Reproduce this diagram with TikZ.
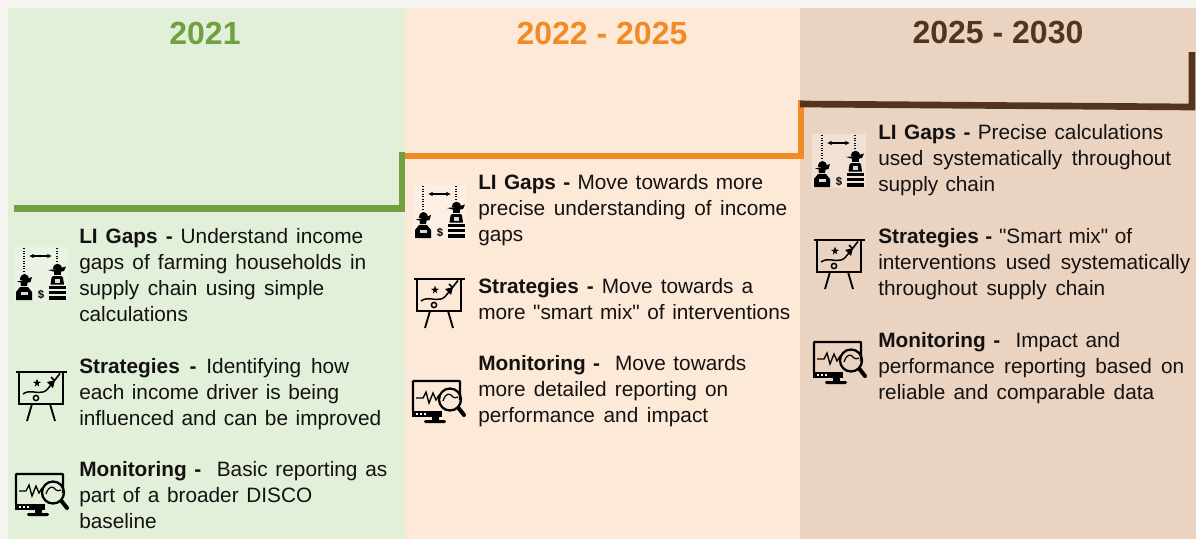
\documentclass[tikz,border=0pt]{standalone}
\usepackage{fontspec}
\setmainfont{Liberation Sans}[Ligatures=TeXOff]
\usetikzlibrary{arrows.meta}
\definecolor{pagebg}{HTML}{F5F4F0}
\definecolor{greenbg}{HTML}{E2EFD9}
\definecolor{orangebg}{HTML}{FDE9D8}
\definecolor{brownbg}{HTML}{EBD3C2}
\definecolor{greenln}{HTML}{70A03F}
\definecolor{orangeln}{HTML}{F28A26}
\definecolor{brownln}{HTML}{54341F}
\definecolor{ink}{HTML}{141210}
\newlength{\jlw}
\newcommand{\jl}[2]{\setlength{\jlw}{#1pt}\setlength{\jlw}{0.75\jlw}\makebox[\jlw][s]{\strut #2}\\}
\newcommand{\hd}[1]{\textbf{#1}}
\tikzset{
  x=0.75pt,y=-0.75pt,
  panel/.style={fill=#1,draw=none},
  yearlabel/.style={font=\fontsize{24}{28}\selectfont\bfseries,text=#1,anchor=center,inner sep=0},
  bodytext/.style={font=\fontsize{15.6}{19.5}\selectfont,text=ink,anchor=north west,inner sep=0,align=left},
  stepline/.style={draw=#1,line width=5pt,line join=miter},
  iconline/.style={draw=black,line width=1.4pt},
  ligaps/.pic={
    \fill[white,opacity=.3] (0,0) rectangle (54,54);
    \draw[black,line width=.9pt,densely dotted] (10,1)--(10,25);
    \draw[black,line width=.9pt,densely dotted] (43,1)--(43,15);
    \draw[black,line width=.8pt,{Latex[length=3.5pt,width=3.5pt]}-{Latex[length=3.5pt,width=3.5pt]}] (15,9)--(38,9);
    % left farmer
    \fill[black] (5.5,33)..controls (5.5,25) and (14.5,25) ..(14.5,33)--cycle;
    \fill[black] (3,34.5)--(10,33)--(18,30)--(16.5,35)--(10,36.5)--cycle;
    \fill[black] (6.5,36)--(13.5,36)--(13,39)--(7,39)--cycle;
    \fill[black] (2,53)--(2,45)--(6,40)--(14,40)--(18,45)--(18,53)--cycle;
    \fill[white,opacity=.85] (6.5,45) rectangle (13.5,48);
    % right farmer
    \fill[black] (38.5,21.5)..controls (38.5,14.5) and (47.5,14.5) ..(47.5,21.5)--cycle;
    \fill[black] (34,23)--(43,22)--(52,19.5)--(50,24)--(43,25.5)--cycle;
    \fill[black] (39.5,25) rectangle (47,28);
    \fill[black] (36.5,37.5)--(37.5,30.5)--(39,29)--(47.5,29)--(49,30.5)--(50,37.5)--cycle;
    \fill[white,opacity=.85] (40.5,32) rectangle (46,36);
    \fill[black] (34.5,38.5) rectangle (52,42);
    \fill[black] (34.5,43.5) rectangle (52,47);
    \fill[black] (34.5,49) rectangle (52,53);
    \node[font=\fontsize{8.5}{8.5}\selectfont\bfseries,text=black,inner sep=0] at (27,48) {\$};
  },
  stratboard/.pic={
    \draw[iconline] (0,0)--(51,0);
    \draw[iconline] (3,0)--(3,32)--(47,32)--(47,0);
    \draw[iconline] (16,32)--(11,49);
    \draw[iconline] (34,32)--(39,49);
    \fill[black] (21,6.5)--(22,9.5)--(25,10)--(22.5,11.5)--(23,14.5)--(21,12.5)--(19,14.5)--(19.5,11.5)--(17,10)--(20,9.5)--cycle;
    \draw[black,line width=1.1pt] (7,22)..controls (14,17) and (20,22) ..(27,20)..controls (31,19) and (32,16) ..(35,13);
    \fill[black] (31,10)--(39,8)--(37,16)--cycle;
    \draw[black,line width=1.2pt] (35,5)--(38.5,8.5)--(44,1.5);
    \draw[black,line width=1.1pt] (20,26) circle (2.6);
  },
  monitor/.pic={
    \draw[black,line width=1.7pt,rounded corners=.5pt] (1,31)--(1,1)--(48,1)--(48,20);
    \fill[black] (0,31) rectangle (30,37);
    \fill[white] (4,33) rectangle (6,35);\fill[white] (8,33) rectangle (10,35);\fill[white] (12,33) rectangle (14,35);
    \fill[black] (20,37) rectangle (27,40);
    \fill[black,rounded corners=1pt] (12,40) rectangle (34,43);
    \draw[black,line width=1pt] (4,18)--(11,18)--(14,12)--(17,23)--(21,13)--(24,20)--(27,15);
    \draw[black,line width=1.7pt] (38,19.5) circle (11);
    \draw[black,line width=.9pt] (31,21)..controls (34,12) and (38,13) ..(41,17)..controls (42,18) and (44,18) ..(46,17);
    \draw[black,line width=3pt,line cap=round] (46.5,28)--(52,35);
  },
}
\begin{document}
\begin{tikzpicture}
\useasboundingbox (0,0) rectangle (1196,539);
\fill[pagebg] (0,0) rectangle (1196,539);
\fill[panel=greenbg] (8,8) rectangle (405,539);
\fill[panel=orangebg] (405,8) rectangle (800,539);
\fill[panel=brownbg] (800,8) rectangle (1196,539);

\node[yearlabel=greenln] (y1) at (205,33) {2021};
\node[yearlabel=orangeln] (y2) at (602,33) {2022 - 2025};
\node[yearlabel=brownln] (y3) at (998,33) {2025 - 2030};

\coordinate (g0) at (14,208.5);\coordinate (g1) at (402,208.5);\coordinate (g2) at (402,152);
\coordinate (o0) at (405,156);\coordinate (o1) at (801,156);\coordinate (o2) at (801,100);
\coordinate (b0) at (800,104);\coordinate (b1) at (1192,107);\coordinate (b2) at (1192,52);
\draw[stepline=greenln] (g0)--(g1)--(g2);
\draw[stepline=orangeln] (o0)--(o1)--(o2);
\draw[stepline=brownln] (b0)--(b1)--(b2);

% column 1
\pic at (14,247) {ligaps};
\pic at (16,372) {stratboard};
\pic at (15,473) {monitor};
\node[bodytext] (a1) at (79,225) {\jl{284}{\hd{LI Gaps -} Understand income}\jl{287}{gaps of farming households in}\jl{245}{supply chain using simple}\jl{109}{calculations}};
\node[bodytext] (a2) at (79,355) {\jl{270}{\hd{Strategies -} Identifying how}\jl{260}{each income driver is being}\jl{302}{influenced and can be improved}};
\node[bodytext] (a3) at (79,458) {\jl{308}{\hd{Monitoring -}\ \ Basic reporting as}\jl{233}{part of a broader DISCO}\jl{78}{baseline}};

% column 2
\pic at (413,185) {ligaps};
\pic at (414,279) {stratboard};
\pic at (412,380) {monitor};
\node[bodytext] (b1n) at (478,171) {\jl{285}{\hd{LI Gaps -} Move towards more}\jl{309}{precise understanding of income}\jl{46}{gaps}};
\node[bodytext] (b2n) at (478,275) {\jl{275}{\hd{Strategies -} Move towards a}\jl{312}{more "smart mix" of interventions}};
\node[bodytext] (b3n) at (478,352) {\jl{268}{\hd{Monitoring -}\ \ Move towards}\jl{250}{more detailed reporting on}\jl{230}{performance and impact}};

% column 3
\pic at (812,134) {ligaps};
\pic at (814,240) {stratboard};
\pic at (813,341) {monitor};
\node[bodytext] (c1n) at (878,121) {\jl{285}{\hd{LI Gaps -} Precise calculations}\jl{293}{used systematically throughout}\jl{117}{supply chain}};
\node[bodytext] (c2n) at (878,225) {\jl{254}{\hd{Strategies -} "Smart mix" of}\jl{312}{interventions used systematically}\jl{227}{throughout supply chain}};
\node[bodytext] (c3n) at (878,329) {\jl{242}{\hd{Monitoring -}\ \ Impact and}\jl{306}{performance reporting based on}\jl{276}{reliable and comparable data}};
\end{tikzpicture}
\end{document}
